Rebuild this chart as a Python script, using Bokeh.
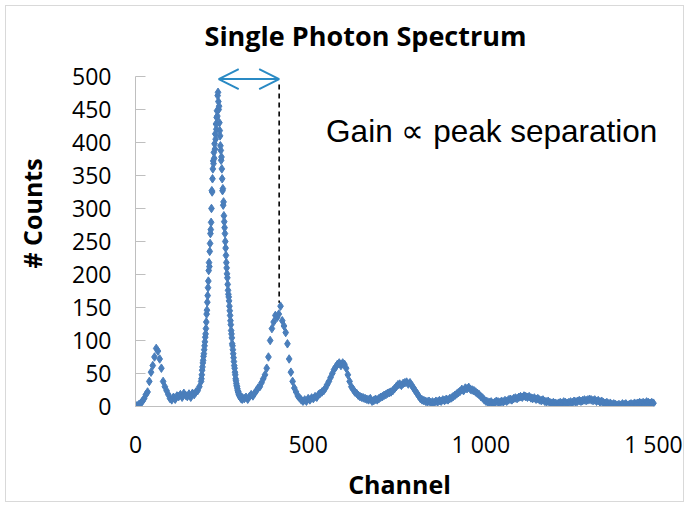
from bokeh.plotting import figure
from bokeh.models import Arrow, OpenHead, Label, FixedTicker, Range1d
from bokeh.embed import file_html
from bokeh.resources import INLINE

# ---------------- data ----------------
# low region: channels 0..190, every 5 channels
counts_low = [2, 1, 3, 5, 8, 12, 18, 22, 38, 52,
              62, 75, 88, 84, 72, 58, 38, 30, 24, 18,
              12, 10, 14, 11, 16, 15, 18, 14, 20, 17,
              15, 19, 14, 20, 18, 22, 24, 30, 38]
ch_low_start, ch_low_step = 0, 5

# main peak: channels 191..310, every channel
counts_peak = [42, 48, 55, 60, 66, 70, 76, 80, 86, 92,
               98, 105, 110, 118, 128, 140, 146, 158, 168, 180,
               190, 206, 218, 212, 235, 247, 262, 268, 279, 300,
               327, 325, 345, 360, 372, 368, 385, 376, 398, 390,
               413, 405, 428, 420, 438, 448, 440, 471, 476, 462,
               450, 455, 430, 418, 410, 395, 388, 373, 378, 360,
               345, 327, 330, 305, 310, 289, 280, 271, 262, 250,
               240, 229, 218, 210, 201, 195, 185, 176, 170, 166,
               160, 152, 145, 138, 130, 124, 115, 110, 104, 95,
               92, 86, 80, 74, 68, 62, 58, 52, 48, 42,
               39, 35, 32, 30, 27, 24, 22, 22, 19, 18,
               17, 15, 16, 14, 13, 12, 14, 12, 11, 13]
ch_peak_start, ch_peak_step = 191, 1

# tail: channels 315..1500, every 5 channels
counts_tail = [12, 14, 11, 15, 18, 16, 20, 24, 28, 30,
               36, 42, 48, 58, 75, 100, 118, 128, 138, 135,
               140, 152, 130, 122, 112, 95, 72, 52, 38, 28,
               22, 16, 13, 10, 8, 10, 8, 12, 10, 13,
               12, 15, 14, 18, 20, 22, 24, 28, 33, 38,
               44, 50, 56, 60, 64, 66, 62, 66, 64, 58,
               48, 38, 30, 26, 22, 20, 17, 15, 14, 13,
               12, 11, 10, 12, 8, 9, 11, 10, 12, 14,
               15, 17, 18, 20, 21, 22, 24, 27, 30, 33,
               34, 32, 35, 36, 37, 34, 36, 32, 28, 24,
               20, 16, 12, 10, 9, 8, 7, 8, 6, 7,
               6, 8, 7, 9, 8, 10, 9, 11, 10, 12,
               13, 15, 17, 19, 21, 23, 26, 24, 28, 27,
               29, 26, 25, 24, 22, 20, 18, 15, 13, 10,
               8, 7, 6, 7, 5, 6, 8, 7, 6, 8,
               7, 9, 8, 10, 11, 10, 12, 13, 12, 14,
               15, 14, 16, 15, 14, 15, 13, 12, 13, 11,
               12, 10, 9, 10, 8, 7, 8, 6, 5, 6,
               5, 4, 5, 6, 5, 7, 6, 5, 6, 7,
               6, 8, 7, 8, 9, 8, 9, 10, 9, 10,
               11, 10, 9, 10, 8, 9, 7, 8, 6, 5,
               6, 4, 5, 3, 4, 3, 2, 3, 2, 4,
               3, 4, 2, 3, 4, 3, 5, 4, 5, 6,
               5, 6, 5, 7, 6, 5, 6, 5]
ch_tail_start, ch_tail_step = 315, 5

y_ticks = [0, 50, 100, 150, 200, 250, 300, 350, 400, 450, 500]
y_axis_max = 500
x_ticks = [0, 500, 1000, 1500]
x_tick_labels = {0: "0", 500: "500", 1000: "1 000", 1500: "1 500"}
x_axis_max = 1500

title_text = "Single Photon Spectrum"
peak1_channel = 241     # first photo-electron peak (arrow start)
peak2_channel = 416     # second peak (arrow end, dashed line)
peak2_top = 157
arrow_level = 496
note_text = "Gain \u221d peak separation"

# ---------------- build ----------------
def channels(start, step, vals):
    return [start + i * step for i in range(len(vals))]

xs = (channels(ch_low_start, ch_low_step, counts_low)
      + channels(ch_peak_start, ch_peak_step, counts_peak)
      + channels(ch_tail_start, ch_tail_step, counts_tail))
ys = counts_low + counts_peak + counts_tail

FONT = "Open Sans"
AXIS_GREY = "#BFBFBF"
BLUE = "#4A7EBB"
ARROW_BLUE = "#2A8AC4"

# frame extends above the 0..500 axis so the title/arrow sit inside it
p = figure(width=679, height=497,
           x_range=Range1d(0, 1529), y_range=Range1d(0, 584.8),
           output_backend="svg", toolbar_location=None,
           min_border_left=129, min_border_right=22,
           min_border_top=14, min_border_bottom=96,
           styles={"margin-left": "5px", "margin-top": "5px",
                   "border": "1px solid #D9D9D9"})
p.outline_line_color = None
p.grid.visible = False
p.background_fill_color = "white"

p.scatter(xs, ys, marker="diamond", size=8.5, color=BLUE)

# y axis
ya = p.yaxis[0]
ya.ticker = FixedTicker(ticks=y_ticks)
ya.bounds = (0, y_axis_max)
ya.axis_line_color = AXIS_GREY
ya.major_tick_line_color = AXIS_GREY
ya.major_tick_in = 10
ya.major_tick_out = 0
ya.minor_tick_line_color = None
ya.major_label_text_font = FONT
ya.major_label_text_font_size = "23px"
ya.major_label_text_color = "#000000"
ya.major_label_standoff = 24
ya.axis_label = "# Counts"
ya.axis_label_text_font = FONT
ya.axis_label_text_font_size = "25px"
ya.axis_label_text_font_style = "bold"
ya.axis_label_text_color = "#000000"
ya.axis_label_standoff = 20

# x axis
xa = p.xaxis[0]
xa.ticker = FixedTicker(ticks=x_ticks)
xa.bounds = (0, x_axis_max)
xa.major_label_overrides = x_tick_labels
xa.axis_line_color = AXIS_GREY
xa.major_tick_line_color = None
xa.major_tick_in = 0
xa.major_tick_out = 0
xa.minor_tick_line_color = None
xa.major_label_text_font = FONT
xa.major_label_text_font_size = "23px"
xa.major_label_text_color = "#000000"
xa.major_label_standoff = 21
xa.axis_label = "Channel"
xa.axis_label_text_font = FONT
xa.axis_label_text_font_size = "25px"
xa.axis_label_text_font_style = "bold"
xa.axis_label_text_color = "#000000"
xa.axis_label_standoff = 4

# title
p.add_layout(Label(x=666, y=562, text=title_text, text_font=FONT,
                   text_font_size="27px", text_font_style="bold",
                   text_align="center", text_baseline="alphabetic",
                   text_color="#000000"))

# annotation: arrow between peaks, dashed line, note
p.add_layout(Arrow(start=OpenHead(size=20, line_color=ARROW_BLUE, line_width=2),
                   end=OpenHead(size=20, line_color=ARROW_BLUE, line_width=2),
                   x_start=peak1_channel, y_start=arrow_level,
                   x_end=peak2_channel, y_end=arrow_level,
                   line_color=ARROW_BLUE, line_width=2))
p.segment(x0=[peak2_channel], y0=[arrow_level - 8], x1=[peak2_channel], y1=[peak2_top],
          line_color="black", line_width=1.6, line_dash="5 4")
p.add_layout(Label(x=552, y=417, text=note_text,
                   text_font="Liberation Sans", text_font_size="31.5px",
                   text_baseline="middle", text_align="left", text_color="#000000"))

open("out.html", "w").write(file_html(p, INLINE))
